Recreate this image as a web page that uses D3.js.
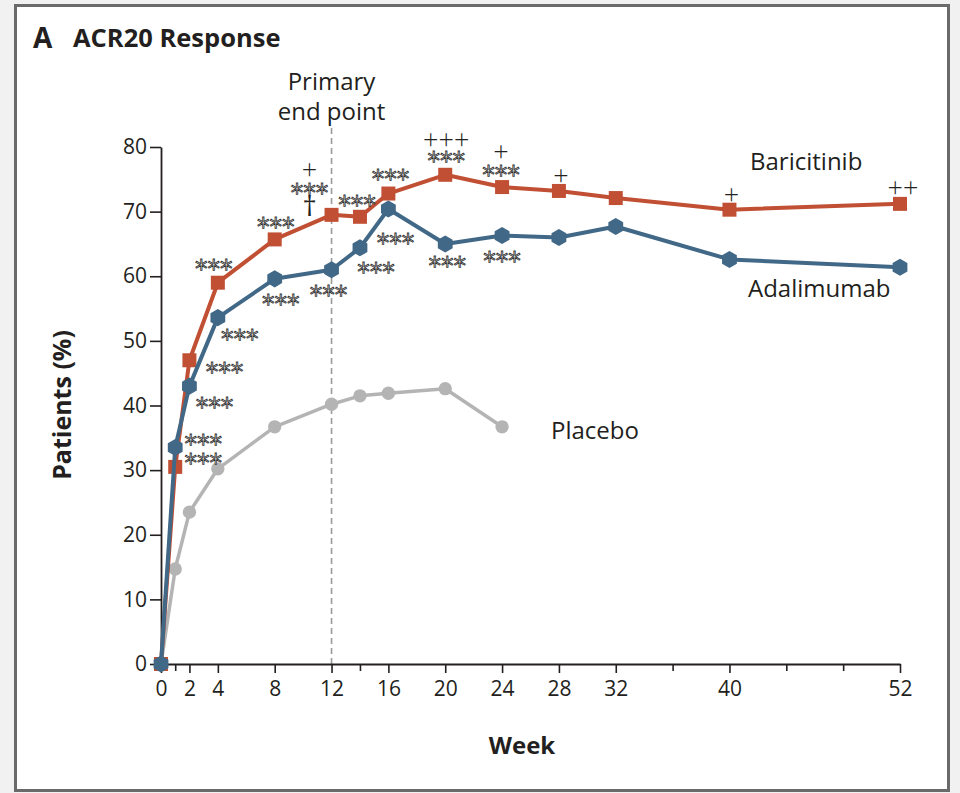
<!DOCTYPE html>
<html>
<head>
<meta charset="utf-8">
<script src="https://cdn.jsdelivr.net/npm/d3@7"></script>
<style>
  html, body { margin: 0; padding: 0; background: #f1f1f1; }
  svg { display: block; }
</style>
</head>
<body>
<script>
// ACR20 response over 52 weeks, by treatment group
const weeksActive = [0, 1, 2, 4, 8, 12, 14, 16, 20, 24, 28, 32, 40, 52];
const baricitinib = [0, 30.5, 47.0, 59.0, 65.7, 69.5, 69.2, 72.8, 75.7, 73.8, 73.2, 72.1, 70.3, 71.2];
const adalimumab  = [0, 33.5, 43.0, 53.6, 59.6, 61.0, 64.4, 70.4, 65.0, 66.3, 66.0, 67.7, 62.6, 61.4];
const weeksPlacebo = [0, 1, 2, 4, 8, 12, 14, 16, 20, 24];
const placebo      = [0, 14.7, 23.5, 30.2, 36.7, 40.2, 41.5, 41.9, 42.6, 36.7];

const labeledWeeks = [0, 2, 4, 8, 12, 16, 20, 24, 28, 32, 40, 52];
const minorWeeks = [1, 14, 36, 44, 48];
const yTicks = [0, 10, 20, 30, 40, 50, 60, 70, 80];
const primaryEndPointWeek = 12;

// Significance symbols: [series, week, text]
const significance = [
  ["adalimumab", 1, "***"],
  ["baricitinib", 1, "***"],
  ["adalimumab", 2, "***"],
  ["baricitinib", 2, "***"],
  ["adalimumab", 4, "***"],
  ["baricitinib", 4, "***"],
  ["baricitinib", 8, "***"],
  ["adalimumab", 8, "***"],
  ["baricitinib", 12, "+"],
  ["baricitinib", 12, "***"],
  ["baricitinib", 12, "†"],
  ["adalimumab", 12, "***"],
  ["baricitinib", 14, "***"],
  ["adalimumab", 14, "***"],
  ["baricitinib", 16, "***"],
  ["adalimumab", 16, "***"],
  ["baricitinib", 20, "+++"],
  ["baricitinib", 20, "***"],
  ["adalimumab", 20, "***"],
  ["baricitinib", 24, "+"],
  ["baricitinib", 24, "***"],
  ["adalimumab", 24, "***"],
  ["baricitinib", 28, "+"],
  ["baricitinib", 40, "+"],
  ["baricitinib", 52, "++"]
];

// ---- layout ----
const W = 960, H = 793;
const FONT = "'Open Sans', 'DejaVu Sans', sans-serif";
const INK = "#231f20";
const COLORS = { baricitinib: "#c14f33", adalimumab: "#416886", placebo: "#b4b4b4" };

const svg = d3.select("body").append("svg").attr("width", W).attr("height", H);

// panel
svg.append("rect").attr("x", 0).attr("y", 0).attr("width", W).attr("height", H).attr("fill", "#f1f1f1");
svg.append("rect").attr("x", 15.5).attr("y", 5.5).attr("width", 933).attr("height", 785)
  .attr("fill", "#ffffff").attr("stroke", "#6a6a6a").attr("stroke-width", 3);

const x = d3.scaleLinear().domain([0, 52]).range([161, 900]);
const y = d3.scaleLinear().domain([0, 80]).range([664, 147]);

// title
svg.append("text").attr("x", 33).attr("y", 48).attr("font-family", FONT).attr("font-weight", 700)
  .attr("font-size", 28).attr("fill", INK).text("A");
svg.append("text").attr("x", 73).attr("y", 47).attr("font-family", FONT).attr("font-weight", 700)
  .attr("font-size", 25.5).attr("fill", INK).text("ACR20 Response");

// primary end point marker
svg.append("line")
  .attr("x1", x(primaryEndPointWeek)).attr("x2", x(primaryEndPointWeek))
  .attr("y1", 128).attr("y2", y(0))
  .attr("stroke", "#9a9a9a").attr("stroke-width", 1.6).attr("stroke-dasharray", "6,4");
const pe = svg.append("text").attr("font-family", FONT).attr("font-size", 24).attr("fill", INK)
  .attr("text-anchor", "middle");
pe.append("tspan").attr("x", x(primaryEndPointWeek)).attr("y", 90).text("Primary");
pe.append("tspan").attr("x", x(primaryEndPointWeek)).attr("y", 120).text("end point");

// axes
const yAxis = svg.append("g").attr("transform", `translate(${x(0)},0)`)
  .call(d3.axisLeft(y).tickValues(yTicks).tickSize(11).tickSizeOuter(0).tickPadding(3));
const xAxis = svg.append("g").attr("transform", `translate(0,${y(0)})`)
  .call(d3.axisBottom(x).tickValues(labeledWeeks).tickSize(9).tickSizeOuter(0).tickPadding(8));
const xMinor = svg.append("g").attr("transform", `translate(0,${y(0)})`)
  .call(d3.axisBottom(x).tickValues(minorWeeks).tickSize(7).tickFormat(""));
xMinor.select(".domain").remove();

[yAxis, xAxis, xMinor].forEach(g => {
  g.selectAll(".domain").attr("stroke", INK).attr("stroke-width", 1.8);
  g.selectAll(".tick line").attr("stroke", INK).attr("stroke-width", 1.6);
  g.selectAll(".tick text").attr("font-family", FONT).attr("font-size", 21).attr("fill", INK);
});

// axis titles
svg.append("text").attr("x", 522).attr("y", 754).attr("text-anchor", "middle")
  .attr("font-family", FONT).attr("font-weight", 700).attr("font-size", 24).attr("fill", INK).text("Week");
svg.append("text").attr("transform", `translate(71,${405}) rotate(-90)`).attr("text-anchor", "middle")
  .attr("font-family", FONT).attr("font-weight", 700).attr("font-size", 25).attr("fill", INK).text("Patients (%)");

// hexagon marker (point up)
const hexagon = {
  draw(context, size) {
    const r = Math.sqrt(size / (1.5 * Math.sqrt(3)));
    for (let i = 0; i < 6; i++) {
      const a = -Math.PI / 2 + i * Math.PI / 3;
      const px = r * Math.cos(a), py = r * Math.sin(a);
      if (i === 0) context.moveTo(px, py); else context.lineTo(px, py);
    }
    context.closePath();
  }
};

const series = [
  { key: "placebo", weeks: weeksPlacebo, values: placebo, symbol: d3.symbolCircle, size: 140, width: 3.5 },
  { key: "baricitinib", weeks: weeksActive, values: baricitinib, symbol: d3.symbolSquare, size: 196, width: 4 },
  { key: "adalimumab", weeks: weeksActive, values: adalimumab, symbol: hexagon, size: 190, width: 4 }
];

const line = d3.line().x(d => x(d[0])).y(d => y(d[1]));
series.forEach(s => {
  const pts = s.weeks.map((w, i) => [w, s.values[i]]);
  svg.append("path").datum(pts).attr("d", line).attr("fill", "none")
    .attr("stroke", COLORS[s.key]).attr("stroke-width", s.width).attr("stroke-linejoin", "round");
  svg.append("g").selectAll("path").data(pts).join("path")
    .attr("transform", d => `translate(${x(d[0])},${y(d[1])})`)
    .attr("d", d3.symbol(s.symbol, s.size))
    .attr("fill", COLORS[s.key]);
});

// series labels
const labelFont = 24;
svg.append("text").attr("x", 750).attr("y", 170).attr("font-family", FONT).attr("font-size", labelFont)
  .attr("fill", INK).text("Baricitinib");
svg.append("text").attr("x", 748).attr("y", 297).attr("font-family", FONT).attr("font-size", labelFont)
  .attr("fill", INK).text("Adalimumab");
svg.append("text").attr("x", 551).attr("y", 439).attr("font-family", FONT).attr("font-size", labelFont)
  .attr("fill", INK).text("Placebo");

// significance symbols, placed relative to the point they annotate (dx, dy of the glyph centre)
const markOffsets = [
  [28, -10], [28, -10], [25, 15], [35, 6], [22, 15], [-4, -20], [1, -18], [6, 19],
  [-22, -46], [-22, -28], [-22, -6], [-3, 19], [-3, -18], [16, 18], [2, -21], [7, 28],
  [1, -36], [1, -20], [2, 16], [-1, -36], [-1, -18], [0, 19], [2, -16], [2, -15], [3, -17]
];
// symbols stacked in one column share a single text element
const stacks = [[0, 1], [8, 9, 10], [16, 17], [19, 20]];
const stackOf = {};
stacks.forEach((s, k) => s.forEach(i => { stackOf[i] = k; }));

const lookup = { baricitinib, adalimumab };
const marks = svg.append("g").attr("opacity", 0.99);
const stackNodes = {};

function styleMark(node, text, cx, cy) {
  node.attr("x", cx).attr("text-anchor", "middle");
  if (text.startsWith("*")) {
    node.attr("y", cy + 14).attr("font-family", "'DejaVu Sans', sans-serif").attr("font-size", 25)
      .attr("fill", "#ffffff").attr("stroke", "#2a2a2a").attr("stroke-width", 0.8);
  } else if (text === "†") {
    node.attr("y", cy + 28 * 0.27).attr("font-family", FONT).attr("font-size", 28)
      .attr("fill", INK).attr("stroke", "none");
  } else {
    node.attr("y", cy + 27 * 0.36).attr("font-family", FONT).attr("font-size", 27)
      .attr("font-weight", 300).attr("fill", INK).attr("stroke", "none");
  }
  node.text(text);
}

significance.forEach((m, i) => {
  const [key, week, text] = m;
  const v = lookup[key][weeksActive.indexOf(week)];
  const cx = x(week) + markOffsets[i][0];
  const cy = y(v) + markOffsets[i][1];
  let node;
  if (i in stackOf) {
    const k = stackOf[i];
    if (!stackNodes[k]) stackNodes[k] = marks.append("text").attr("text-anchor", "middle");
    node = stackNodes[k].append("tspan");
  } else {
    node = marks.append("text");
  }
  styleMark(node, text, cx, cy);
});
</script>
</body>
</html>
